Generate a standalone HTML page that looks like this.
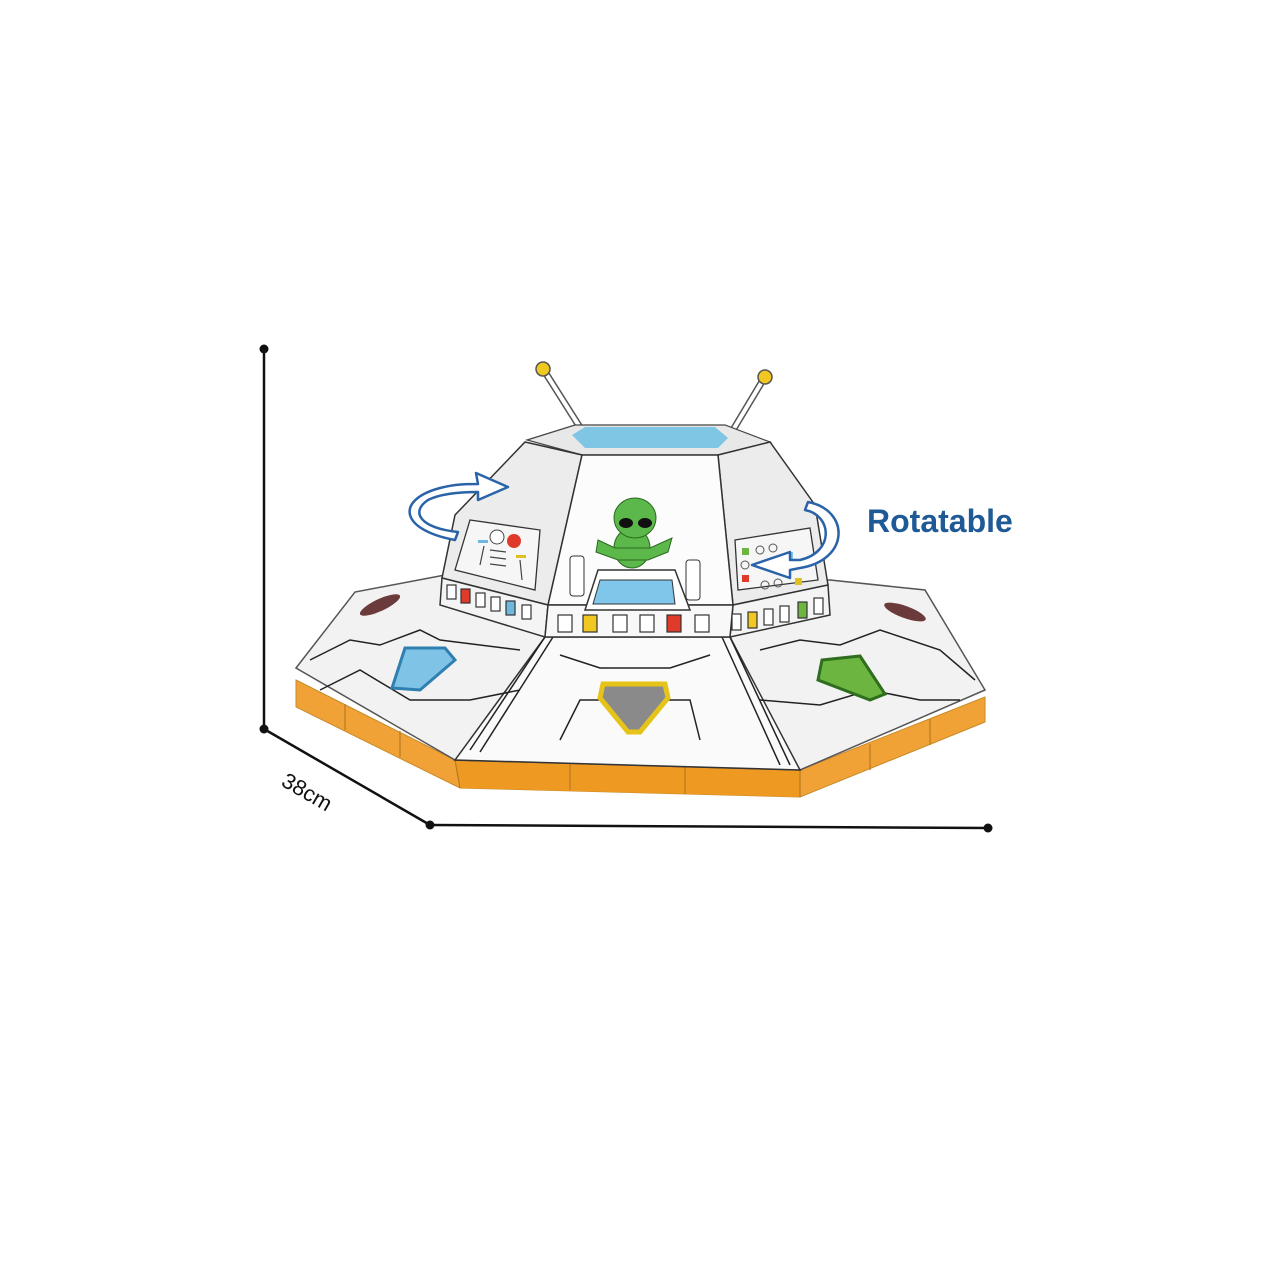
<!DOCTYPE html>
<html><head><meta charset="utf-8"><style>
html,body{margin:0;padding:0;background:#fff;width:1280px;height:1280px;overflow:hidden}
svg{display:block}
</style></head><body>
<svg width="1280" height="1280" viewBox="0 0 1280 1280" xmlns="http://www.w3.org/2000/svg">
<g stroke="#111" stroke-width="2.5" fill="none">
<line x1="264" y1="349" x2="264" y2="729"/>
<line x1="264" y1="729" x2="430" y2="825"/>
<line x1="430" y1="825" x2="988" y2="828"/>
</g>
<g fill="#111"><circle cx="264" cy="349" r="4.5"/><circle cx="264" cy="729" r="4.5"/><circle cx="430" cy="825" r="4.5"/><circle cx="988" cy="828" r="4.5"/></g>
<text x="0" y="0" transform="translate(280,785) rotate(30)" font-family="Liberation Sans, sans-serif" font-size="22" fill="#111">38cm</text>

<polygon points="296,680 455,760 800,770 985,697 985,722 800,797 460,788 296,707" fill="#f0a236" stroke="#c98a2a" stroke-width="1"/>
<polygon points="455,760 800,770 800,797 460,788" fill="#ee9a22"/>
<g stroke="#b87a20" stroke-width="1.2">
<line x1="345" y1="704" x2="345" y2="730"/><line x1="400" y1="731" x2="400" y2="757"/>
<line x1="570" y1="764" x2="570" y2="790"/><line x1="685" y1="767" x2="685" y2="794"/>
<line x1="870" y1="744" x2="870" y2="770"/><line x1="930" y1="719" x2="930" y2="745"/>
<line x1="455" y1="760" x2="460" y2="788"/><line x1="800" y1="770" x2="800" y2="797"/>
</g>
<polygon points="296,668 355,592 445,575 830,580 925,590 985,690 800,770 455,760" fill="#f2f2f2" stroke="#555" stroke-width="1.5"/>
<polygon points="545,637 730,637 800,770 455,760" fill="#fafafa" stroke="#333" stroke-width="1.5"/>
<g stroke="#222" stroke-width="1.5" fill="none">
<polyline points="310,660 350,640 380,645 420,630 440,640 520,650"/>
<polyline points="320,690 360,670 410,700 470,700 520,690"/>
<polyline points="560,740 580,700 600,700"/>
<polyline points="700,740 690,700 665,700"/>
<polyline points="560,655 600,668 670,668 710,655"/>
<polyline points="760,650 800,640 840,645 880,630 940,650 975,680"/>
<polyline points="760,700 820,705 870,690 920,700 960,700"/>
<line x1="545" y1="637" x2="470" y2="750"/><line x1="553" y1="637" x2="480" y2="752"/>
<line x1="730" y1="637" x2="790" y2="765"/><line x1="722" y1="637" x2="780" y2="765"/>
</g>
<polygon points="405,648 445,648 455,660 420,690 392,688" fill="#7fc4e6" stroke="#2f7fb0" stroke-width="3"/>
<polygon points="822,660 860,656 885,694 870,700 818,680" fill="#6cb540" stroke="#2e6e1e" stroke-width="3"/>
<polygon points="603,684 665,684 668,698 640,732 628,732 600,698" fill="#8a8a8a" stroke="#e5c318" stroke-width="5"/>
<ellipse cx="380" cy="605" rx="22" ry="6" fill="#6b3a3a" transform="rotate(-25 380 605)"/>
<ellipse cx="905" cy="612" rx="22" ry="6" fill="#6b3a3a" transform="rotate(20 905 612)"/>

<g stroke="#555" stroke-width="7" stroke-linecap="round"><line x1="545" y1="372" x2="588" y2="440"/><line x1="763" y1="380" x2="727" y2="440"/></g>
<g stroke="#fff" stroke-width="4" stroke-linecap="round"><line x1="545" y1="372" x2="588" y2="440"/><line x1="763" y1="380" x2="727" y2="440"/></g>
<circle cx="543" cy="369" r="7" fill="#f0c820" stroke="#555" stroke-width="1.5"/>
<circle cx="765" cy="377" r="7" fill="#f0c820" stroke="#555" stroke-width="1.5"/>

<polygon points="527,440 575,425 725,425 770,442 718,455 582,455" fill="#e8e8e8" stroke="#444" stroke-width="1.2"/>
<polygon points="572,435 585,427 715,427 728,438 718,448 585,448" fill="#7fc6e4"/>
<polygon points="525,442 582,455 548,605 442,578 455,515" fill="#ececec" stroke="#333" stroke-width="1.5"/>
<polygon points="770,442 718,455 733,605 828,585 815,505" fill="#ececec" stroke="#333" stroke-width="1.5"/>
<polygon points="582,455 718,455 733,605 548,605" fill="#fcfcfc" stroke="#333" stroke-width="1.5"/>
<polygon points="442,578 548,605 545,637 440,605" fill="#f4f4f4" stroke="#333" stroke-width="1.5"/>
<polygon points="733,605 828,585 830,615 730,637" fill="#f4f4f4" stroke="#333" stroke-width="1.5"/>
<polygon points="548,605 733,605 730,637 545,637" fill="#f8f8f8" stroke="#333" stroke-width="1.5"/>
<polygon points="470,520 540,530 535,590 455,570" fill="#f6f6f6" stroke="#333" stroke-width="1.3"/>
<circle cx="497" cy="537" r="7" fill="#fff" stroke="#444"/><circle cx="514" cy="541" r="7" fill="#e03a2a"/>
<rect x="478" y="540" width="10" height="3" fill="#6cb8e0"/><rect x="516" y="555" width="10" height="3" fill="#e0c020"/>
<g stroke="#444" stroke-width="1.2"><line x1="484" y1="546" x2="480" y2="565"/><line x1="490" y1="550" x2="506" y2="552"/><line x1="490" y1="557" x2="506" y2="559"/><line x1="490" y1="564" x2="506" y2="566"/><line x1="520" y1="560" x2="522" y2="580"/></g>
<polygon points="735,540 810,528 818,580 738,590" fill="#f6f6f6" stroke="#333" stroke-width="1.3"/>
<rect x="742" y="548" width="7" height="7" fill="#6cb540"/><rect x="742" y="575" width="7" height="7" fill="#e03a2a"/>
<rect x="786" y="552" width="7" height="7" fill="#7fc4e6"/><rect x="795" y="578" width="7" height="7" fill="#e0c020"/>
<g fill="none" stroke="#555"><circle cx="760" cy="550" r="4"/><circle cx="773" cy="548" r="4"/><circle cx="745" cy="565" r="4"/><circle cx="765" cy="585" r="4"/><circle cx="778" cy="583" r="4"/></g>
<rect x="570" y="556" width="14" height="40" fill="#fff" stroke="#333" rx="3"/><rect x="686" y="560" width="14" height="40" fill="#fff" stroke="#333" rx="3"/>
<ellipse cx="632" cy="548" rx="18" ry="20" fill="#5cb84a" stroke="#2a6a1e"/>
<path d="M598,540 L615,548 L650,548 L672,538 L668,552 L648,560 L618,560 L596,552Z" fill="#5cb84a" stroke="#2a6a1e"/>
<ellipse cx="635" cy="518" rx="21" ry="20" fill="#5cb84a" stroke="#2a6a1e"/>
<ellipse cx="626" cy="523" rx="7" ry="5" fill="#111"/><ellipse cx="645" cy="523" rx="7" ry="5" fill="#111"/>
<polygon points="598,570 675,570 690,610 585,610" fill="#fff" stroke="#333" stroke-width="1.5"/>
<polygon points="600,580 672,580 675,604 593,604" fill="#7fc6ea" stroke="#333"/>
<g stroke="#333" stroke-width="1.2" fill="#fff">
<rect x="447" y="585" width="9" height="14"/>
<rect x="461" y="589" width="9" height="14" fill="#e03a2a"/>
<rect x="476" y="593" width="9" height="14"/><rect x="491" y="597" width="9" height="14"/>
<rect x="506" y="601" width="9" height="14" fill="#6cb8e0"/><rect x="522" y="605" width="9" height="14"/>
<rect x="558" y="615" width="14" height="17"/><rect x="583" y="615" width="14" height="17" fill="#f0c820"/>
<rect x="613" y="615" width="14" height="17"/><rect x="640" y="615" width="14" height="17"/>
<rect x="667" y="615" width="14" height="17" fill="#e03a2a"/><rect x="695" y="615" width="14" height="17"/>
<rect x="732" y="614" width="9" height="16"/><rect x="748" y="612" width="9" height="16" fill="#f0c820"/>
<rect x="764" y="609" width="9" height="16"/><rect x="780" y="606" width="9" height="16"/>
<rect x="798" y="602" width="9" height="16" fill="#6cb540"/><rect x="814" y="598" width="9" height="16"/>
</g>

<g fill="#fff" stroke="#2a63a8" stroke-width="2.5" stroke-linejoin="round">
<path d="M455,540 C400,530 395,500 440,488 C455,484 468,484 478,484 L476,473 L508,487 L478,500 L478,492 C460,492 440,494 428,500 C410,512 420,528 458,532 Z"/>
<path d="M808,502 C850,510 850,560 800,568 L790,570 L790,578 L752,565 L790,552 L790,560 L800,560 C835,552 832,515 805,510 Z"/>
</g>
<text x="867" y="532" font-family="Liberation Sans, sans-serif" font-weight="bold" font-size="32" fill="#1f5a96">Rotatable</text>
</svg>
</body></html>
